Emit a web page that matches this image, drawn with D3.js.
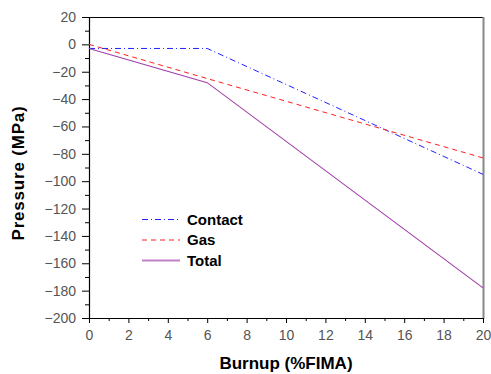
<!DOCTYPE html>
<html>
<head>
<meta charset="utf-8">
<script src="https://d3js.org/d3.v7.min.js"></script>
<style>
    body { margin: 0; background: #fff; }
    text { font-family: Arial, "Liberation Sans", sans-serif; }
</style>
</head>
<body>
<div id="chart"></div>
<script>
(function () {

    // burnup points (%FIMA)
    var burnup = [0, 6, 20];
    var contact = [-3, -3, -95];
    var gas = [0, -25, -83];
    var total = [-3, -28, -178];

    var xTicks = [0, 2, 4, 6, 8, 10, 12, 14, 16, 18, 20];
    var yTicks = [20, 0, -20, -40, -60, -80, -100, -120, -140, -160, -180, -200];

    var series = [
        { name: "Contact", values: contact, color: "#2020ff", dash: "6,3,1,3", width: 1 },
        { name: "Gas", values: gas, color: "#ff2020", dash: "5,4", width: 1 },
        { name: "Total", values: total, color: "#a040a8", dash: null, width: 1.1 }
    ];

    var width = 491,
        height = 374;
    var margin = { top: 17, right: 8, bottom: 56, left: 89 };
    var w = width - margin.left - margin.right,
        h = height - margin.top - margin.bottom;

    var svg = d3
        .select("#chart")
        .append("svg")
        .attr("width", width)
        .attr("height", height);

    var g = svg
        .append("g")
        .attr("transform", "translate(" + margin.left + "," + margin.top + ")");

    var x = d3.scaleLinear().domain([0, 20]).range([0, w]);
    var y = d3.scaleLinear().domain([-200, 20]).range([h, 0]);

    // frame: top black, right grey shadow
    g.append("line")
        .attr("x1", 0).attr("x2", w)
        .attr("y1", 0.5).attr("y2", 0.5)
        .attr("stroke", "#000");
    g.append("line")
        .attr("x1", w + 0.5).attr("x2", w + 0.5)
        .attr("y1", 0).attr("y2", h + 1)
        .attr("stroke", "#888")
        .attr("stroke-width", 2);

    // minor ticks
    var xMinor = d3.range(1, 20, 2);
    var yMinor = d3.range(-190, 20, 20);

    g.append("g")
        .attr("transform", "translate(0," + h + ")")
        .call(d3.axisBottom(x).tickValues(xMinor).tickSize(3).tickFormat(""))
        .call(function (a) { a.select(".domain").remove(); });

    g.append("g")
        .call(d3.axisLeft(y).tickValues(yMinor).tickSize(4).tickFormat(""))
        .call(function (a) { a.select(".domain").remove(); });

    var xAxis = g.append("g")
        .attr("transform", "translate(0," + h + ")")
        .call(d3.axisBottom(x).tickValues(xTicks).tickSize(5).tickPadding(6).tickSizeOuter(0));

    var yAxis = g.append("g")
        .call(d3.axisLeft(y).tickValues(yTicks).tickSize(7).tickPadding(6).tickSizeOuter(0));

    [xAxis, yAxis].forEach(function (a) {
        a.selectAll("text")
            .style("font-size", "14px")
            .style("font-family", "Arial, 'Liberation Sans', sans-serif")
            .attr("fill", "#555");
        a.selectAll("line").attr("stroke", "#000");
        a.select(".domain").attr("stroke", "#000").attr("stroke-width", 1.2);
    });
    xAxis.selectAll("text").attr("dy", "0.75em");

    // lines
    var line = d3.line()
        .x(function (d) { return x(d[0]); })
        .y(function (d) { return y(d[1]); });

    series.forEach(function (s) {
        var pts = burnup.map(function (b, i) { return [b, s.values[i]]; });
        g.append("path")
            .datum(pts)
            .attr("fill", "none")
            .attr("stroke", s.color)
            .attr("stroke-width", s.width)
            .attr("stroke-dasharray", s.dash)
            .attr("d", line);
    });

    // legend
    var legend = svg.append("g").attr("transform", "translate(142,219.5)");
    series.forEach(function (s, i) {
        var row = legend.append("g").attr("transform", "translate(0," + (i * 20.5) + ")");
        row.append("line")
            .attr("x1", 0).attr("x2", 38)
            .attr("y1", 0).attr("y2", 0)
            .attr("stroke", s.name == "Total" ? "#c080c8" : s.color)
            .attr("stroke-width", s.name == "Total" ? 2 : 1)
            .attr("stroke-dasharray", s.dash);
        row.append("text")
            .attr("x", 45)
            .attr("y", 5)
            .style("font-size", "15px")
            .style("font-weight", "bold")
            .text(s.name);
    });

    // axis titles
    svg.append("text")
        .attr("x", margin.left + w / 2)
        .attr("y", 369)
        .attr("text-anchor", "middle")
        .style("font-size", "17px")
        .style("font-weight", "bold")
        .text("Burnup (%FIMA)");

    svg.append("text")
        .attr("transform", "translate(24,173) rotate(-90)")
        .attr("text-anchor", "middle")
        .style("font-size", "17px")
        .style("font-weight", "bold")
        .style("letter-spacing", "0.8px")
        .text("Pressure (MPa)");
})();
</script>
</body>
</html>
